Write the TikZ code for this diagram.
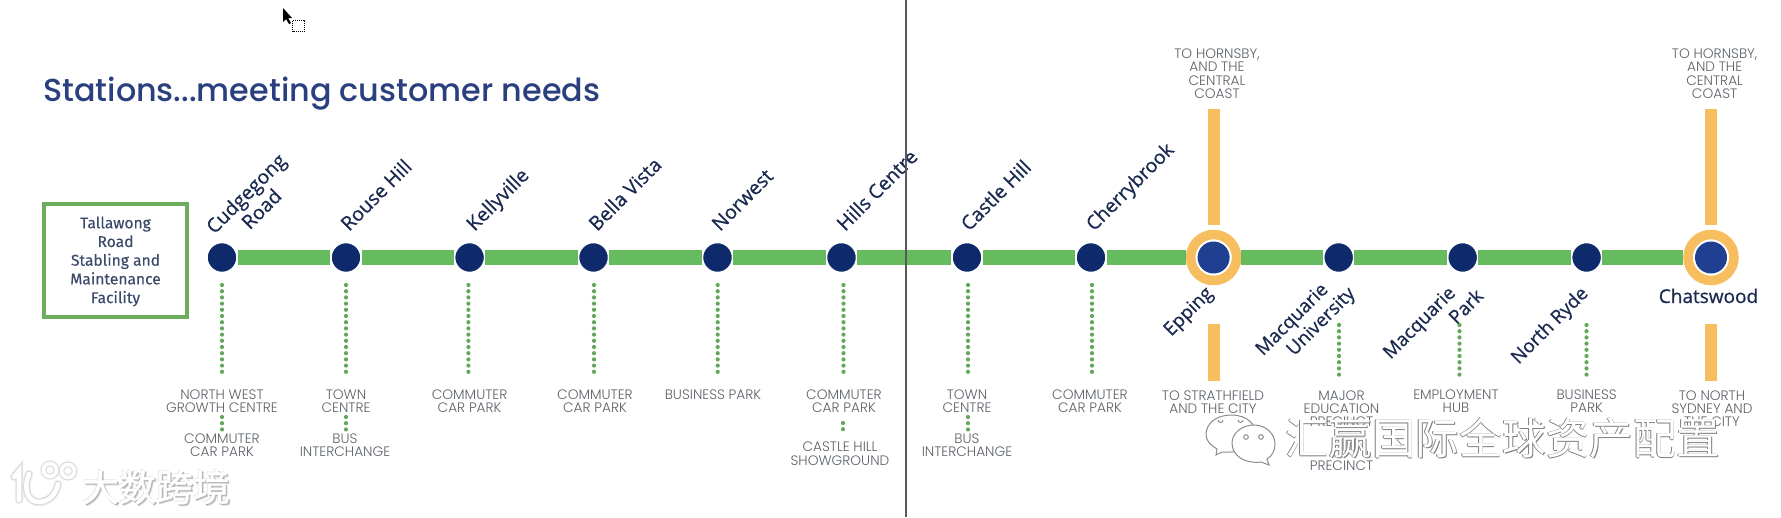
\documentclass[tikz,border=0pt]{standalone}
\usepackage{fontspec}
\setmainfont{Open Sans}
\newfontfamily\titlefont{Poppins}[UprightFont=* Medium]
\newfontfamily\lblfont{Poppins}[UprightFont=* Light]
\newfontfamily\namefont{Open Sans}[FakeBold=0.6]
\newfontfamily\boxfont{Fira Sans}[FakeBold=0.25]
\newfontfamily\cjk{Noto Sans CJK SC}
\newfontfamily\cjkb{Noto Sans CJK SC}[FakeBold=1.2]
\definecolor{lineg}{HTML}{66BB5E}
\definecolor{boxg}{HTML}{6CAD5E}
\definecolor{dotg}{HTML}{62A85A}
\definecolor{navy}{HTML}{0F2A6B}
\definecolor{blue2}{HTML}{1F4090}
\definecolor{oran}{HTML}{F6BE5E}
\definecolor{titleb}{HTML}{2A3F7E}
\definecolor{namec}{HTML}{1A2A50}
\definecolor{lblc}{HTML}{5C6268}
\definecolor{rulec}{HTML}{55585C}
\tikzset{
  x=1pt,y=-1pt,
  stn/.style={circle,fill=navy,draw=white,line width=1.5pt,minimum size=30pt,inner sep=0pt},
  ringstn/.style={circle,fill=white,draw=oran,line width=9.5pt,minimum size=46pt,inner sep=0pt},
  hubstn/.style={circle,fill=blue2,minimum size=32pt,inner sep=0pt},
  mainline/.style={draw=lineg,line width=15pt},
  orbar/.style={draw=oran,line width=12pt},
  dots/.style={draw=dotg,line width=4.2pt,dash pattern=on 0pt off 6.2pt,line cap=round},
  stname/.style={font=\namefont\fontsize{19.5}{22}\selectfont,text=namec,rotate=45,inner sep=0pt},
  stlow/.style={stname,font=\namefont\fontsize{18.8}{22}\selectfont},
  stbase/.style={stname,anchor=base west},
  lbl/.style={font=\lblfont\fontsize{13.7}{13.2}\selectfont,text=lblc,align=center,inner sep=0pt},
}
\begin{document}
\begin{tikzpicture}
\useasboundingbox (0,0) rectangle (1781,517);
\fill[white] (0,0) rectangle (1781,517);
% cursor
\fill[black] (283,8) -- (283,22) -- (286,19) -- (289,24) -- (291,23) -- (288,18) -- (292,18) -- cycle;
\draw[black,line width=1pt,dash pattern=on 1pt off 1pt] (292.5,20.5) rectangle (304.5,31);
% title
\node[anchor=base west,inner sep=0pt,text=titleb,font=\titlefont\fontsize{31.8}{36}\selectfont] (title) at (43,101.5) {Stations...meeting customer needs};
% depot
\node[draw=boxg,line width=4pt,minimum width=143pt,minimum height=113pt,inner sep=0pt] (depot) at (115.5,260.5) {};
\node[inner sep=0pt,align=center,text=namec!85!white,font=\boxfont\fontsize{15.6}{18.7}\selectfont] (depottext) at (115.5,261.5) {Tallawong\\Road\\Stabling and\\Maintenance\\Facility};
% stations
\node[stn] (s1) at (222,257.5) {};
\node[stn] (s2) at (346,257.5) {};
\node[stn] (s3) at (469.6,257.5) {};
\node[stn] (s4) at (593.5,257.5) {};
\node[stn] (s5) at (717.5,257.5) {};
\node[stn] (s6) at (841.5,257.5) {};
\node[stn] (s7) at (967,257.5) {};
\node[stn] (s8) at (1091,257.5) {};
\node[ringstn] (s9) at (1213.6,257.5) {};
\node[stn] (s10) at (1338.7,257.5) {};
\node[stn] (s11) at (1462.7,257.5) {};
\node[stn] (s12) at (1586.6,257.5) {};
\node[ringstn] (s13) at (1711,257.5) {};
\node[hubstn] (s9c) at (s9) {};
\node[hubstn] (s13c) at (s13) {};
\foreach \a/\b in {s1/s2,s2/s3,s3/s4,s4/s5,s5/s6,s6/s7,s7/s8,s8/s9,s9/s10,s10/s11,s11/s12,s12/s13}
  \draw[mainline] (\a) -- (\b);
% orange branches
\coordinate (e1) at (1213.6,109); \coordinate (e2) at (1213.6,225);
\coordinate (e3) at (1213.6,324); \coordinate (e4) at (1213.6,380.7);
\coordinate (c1) at (1711,109); \coordinate (c2) at (1711,225);
\coordinate (c3) at (1711,324); \coordinate (c4) at (1711,380.7);
\draw[orbar] (e1) -- (e2);
\draw[orbar] (e3) -- (e4);
\draw[orbar] (c1) -- (c2);
\draw[orbar] (c3) -- (c4);
% dotted connectors
\foreach \n/\x/\ya/\yb in {d1/222/285/375,d2/346/285/375,d3/468.4/285/375,d4/594/285/375,d5/717.7/285/375,d6/843.5/285/375,d7/968/285/375,d8/1092/285/375,d10/1339/325/380,d11/1459.5/325/380,d12/1586.5/325/380,g1/222/417/430,g2/346/417/430,g6/843/423/435,g7/968/417/430}{
  \coordinate (\n a) at (\x,\ya);
  \coordinate (\n b) at (\x,\yb);
  \draw[dots] (\n a) -- (\n b);
}
% names above
\node[stname,align=center] (n1) at (253.5,201) {Cudgegong\\Road};
\node[stbase] (n2) at (349,232) {Rouse Hill};
\node[stbase] (n3) at (474.5,232) {Kellyville};
\node[stbase] (n4) at (597,232) {Bella Vista};
\node[stbase] (n5) at (720,232) {Norwest};
\node[stbase] (n6) at (845,232) {Hills Centre};
\node[stbase] (n7) at (969,232) {Castle Hill};
\node[stbase] (n8) at (1094,232) {Cherrybrook};
% names below
\node[stlow,anchor=base west] (n9) at (1171,337) {Epping};
\node[stlow,align=center] (n10) at (1300.5,328) {Macquarie\\\hspace*{38pt}University};
\node[stlow,align=center] (n11) at (1426.5,330) {Macquarie\\\hspace*{89pt}Park};
\node[stlow,anchor=base west] (n12) at (1518.5,365) {North Ryde};
\node[stname,rotate=-45,anchor=base,font=\namefont\fontsize{19}{24}\selectfont] (n13) at (1708.5,303) {Chatswood};
% small labels
\node[lbl] (l1) at (222,401) {NORTH WEST\\GROWTH CENTRE};
\node[lbl] (l1b) at (222,445) {COMMUTER\\CAR PARK};
\node[lbl] (l2) at (346,401) {TOWN\\CENTRE};
\node[lbl] (l2b) at (345,445) {BUS\\INTERCHANGE};
\node[lbl] (l3) at (469.6,401) {COMMUTER\\CAR PARK};
\node[lbl] (l4) at (595,401) {COMMUTER\\CAR PARK};
\node[lbl] (l5) at (713,394.7) {BUSINESS PARK};
\node[lbl] (l6) at (844,401) {COMMUTER\\CAR PARK};
\node[lbl] (l6b) at (840,453.7) {CASTLE HILL\\SHOWGROUND};
\node[lbl] (l7) at (967,401) {TOWN\\CENTRE};
\node[lbl] (l7b) at (967,445) {BUS\\INTERCHANGE};
\node[lbl] (l8) at (1090,401) {COMMUTER\\CAR PARK};
\node[lbl] (l9) at (1213,402) {TO STRATHFIELD\\AND THE CITY};
\node[lbl] (l10) at (1341.5,408.5) {MAJOR\\EDUCATION\\PRECINCT};
\node[lbl] (l10b) at (1341.5,465.7) {PRECINCT};
\node[lbl] (l11) at (1456,401.5) {EMPLOYMENT\\HUB};
\node[lbl] (l12) at (1586.6,401.5) {BUSINESS\\PARK};
\node[lbl] (l13) at (1712,408.5) {TO NORTH\\SYDNEY AND\\THE CITY};
\node[lbl] (l14) at (1217,73.7) {TO HORNSBY,\\AND THE\\CENTRAL\\COAST};
\node[lbl] (l15) at (1714.6,73.7) {TO HORNSBY,\\AND THE\\CENTRAL\\COAST};
% vertical rule
\coordinate (r1) at (906,0); \coordinate (r2) at (906,517);
\draw[rulec,line width=1.6pt] (r1) -- (r2);
% watermark left: logo
\foreach \w/\c/\o in {8.5/gray/0.12,6.5/gray/0.22,4.6/white/1}{
  \draw[draw=\c,draw opacity=\o,line width=\w pt,line cap=round]
    (14,477) -- (19,471) -- (19,500)
    (29,474) .. controls (22,492) and (30,503) .. (40,502) .. controls (50,501) and (56,494) .. (58,484);
  \draw[draw=\c,draw opacity=\o,line width=\w pt*0.8] (50,470) circle[radius=6.5] (68,471) circle[radius=6.5];
}
\foreach \dx/\dy/\o in {2/2/0.12,1.5/1.5/0.2,1/1/0.3,-1/-1/0.12}{
  \node[inner sep=0pt,text=gray,text opacity=\o,font=\cjkb\fontsize{37}{40}\selectfont] at (156+\dx,487+\dy) {大数跨境};
}
\node[inner sep=0pt,text=white,font=\cjkb\fontsize{37}{40}\selectfont] (wm1) at (156,487) {大数跨境};
% watermark right: bubbles
\begin{scope}[draw=gray!90,fill=white,line width=1pt,preaction={draw=white,line width=5pt}]
  \filldraw (1231,415) .. controls (1248,415) and (1256,425) .. (1256,435) .. controls (1256,446) and (1246,452) .. (1231,452) -- (1222,452) -- (1216,455) -- (1217,449) .. controls (1209,444) and (1206,440) .. (1206,434) .. controls (1206,424) and (1216,415) .. (1231,415) -- cycle;
  \filldraw (1254,425) .. controls (1266,425) and (1275,434) .. (1275,444) .. controls (1275,451) and (1272,456) .. (1267,459) -- (1269,465) -- (1261,462) .. controls (1245,464) and (1232,456) .. (1232,443) .. controls (1232,433) and (1242,425) .. (1254,425) -- cycle;
\end{scope}
\begin{scope}[draw=gray!90,line width=1pt]
  \draw (1218,420) arc[start angle=180,end angle=0,radius=2.5];
  \draw (1238,420) arc[start angle=180,end angle=0,radius=2.5];
  \draw (1246,437) circle[radius=2.3];
  \draw (1261,437) circle[radius=2.3];
\end{scope}
% watermark right: text
\foreach \dx/\dy in {0.7/0.7,-0.6/-0.6}{
  \node[inner sep=0pt,text=black!50,font=\cjk\fontsize{43.5}{48}\selectfont] at (1502.5+\dx,438+\dy) {汇赢国际全球资产配置};
}
\node[inner sep=0pt,text=white,font=\cjk\fontsize{43.5}{48}\selectfont] (wm2) at (1502.5,438) {汇赢国际全球资产配置};
\end{tikzpicture}
\end{document}
